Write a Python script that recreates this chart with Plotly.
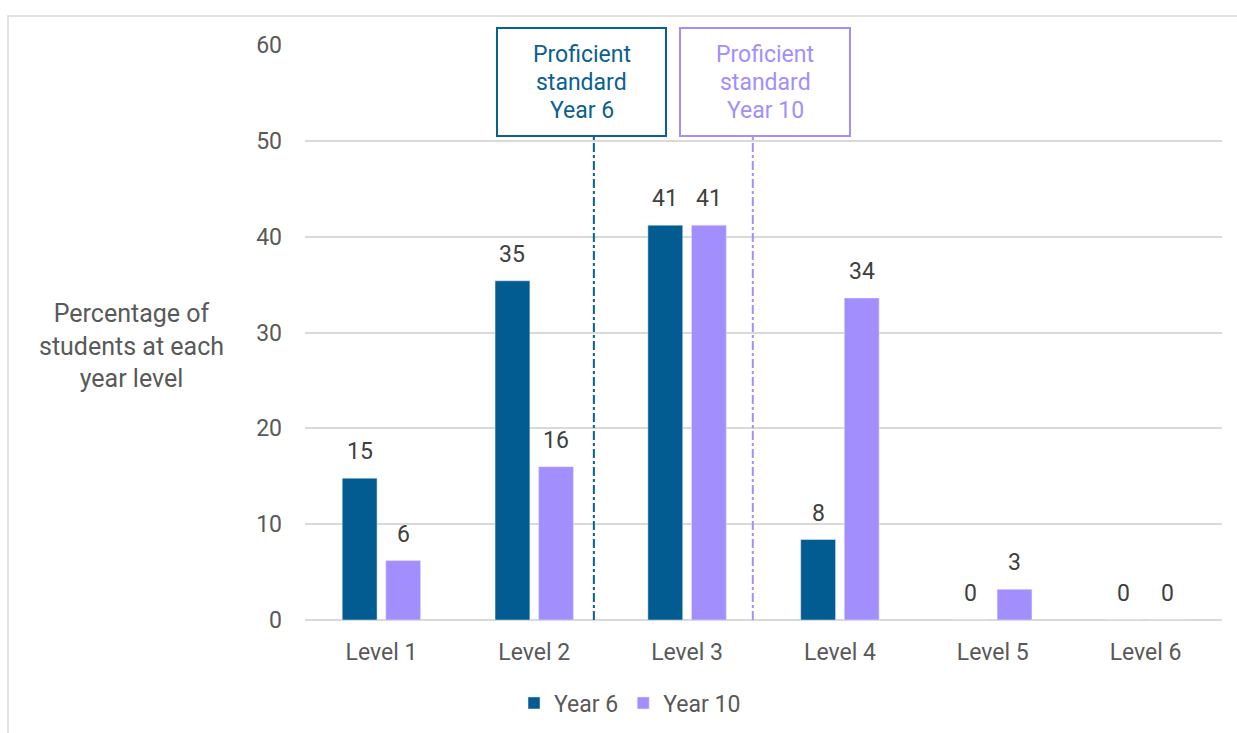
import plotly.graph_objects as go

categories = ["Level 1", "Level 2", "Level 3", "Level 4", "Level 5", "Level 6"]
year6 = [14.8, 35.4, 41.2, 8.4, 0, 0]
year10 = [6.2, 16.0, 41.2, 33.6, 3.2, 0]
yticks = [0, 10, 20, 30, 40, 50, 60]
box6_lines = ["Proficient", "standard", "Year 6"]
box10_lines = ["Proficient", "standard", "Year 10"]

C6 = "#035C91"
C10 = "#A28FFD"
B6 = "#0A6191"
TXT = "#595959"
LBL = "#404040"
FONT = "Roboto"
FS = 23

W, H = 1237, 733
L, R, T, B = 305, 15, 45, 113
PW, PH = W - L - R, H - T - B

def px2x(px):
    return (px - L) / PW

def py2y(py):
    return (H - B - py) / PH

BARGAP, GROUPGAP = 0.43, 0.2

fig = go.Figure()
fig.add_trace(go.Bar(x=categories, y=year6, name="Year 6", marker=dict(color=C6)))
fig.add_trace(go.Bar(x=categories, y=year10, name="Year 10", marker=dict(color=C10)))

# data labels (rounded values above each bar)
slot_px = PW / len(categories) * (1 - BARGAP) / 2
for vals, sh in [(year6, -slot_px / 2), (year10, slot_px / 2)]:
    for c, v in zip(categories, vals):
        fig.add_annotation(x=c, y=v, xref="x", yref="y", text=f"{v:.0f}",
                           showarrow=False, xanchor="center", yanchor="bottom",
                           xshift=sh, yshift=11,
                           font=dict(color=LBL, size=FS, family=FONT))

# proficient standard lines
for xv, col in [(1.39, B6), (2.43, C10)]:
    fig.add_shape(type="line", xref="x", yref="paper", x0=xv, x1=xv,
                  y0=0, y1=py2y(137), line=dict(color=col, width=2, dash="dashdot"))

# proficient standard boxes
for (x0, x1), lines, col in [((497, 666), box6_lines, B6), ((680, 850), box10_lines, C10)]:
    fig.add_shape(type="rect", xref="paper", yref="paper",
                  x0=px2x(x0), x1=px2x(x1), y0=py2y(136), y1=py2y(28),
                  line=dict(color=col, width=2), fillcolor="white")
    xc = px2x((x0 + x1) / 2)
    for i, t in enumerate(lines):
        fig.add_annotation(x=xc, y=py2y(54 + 28 * i), xref="paper", yref="paper",
                           text=t, showarrow=False, xanchor="center", yanchor="middle",
                           font=dict(color=col, size=FS, family=FONT))

# y-axis title
fig.add_annotation(x=px2x(131), y=py2y(346), xref="paper", yref="paper",
                   text="Percentage of<br>students at each<br>year level", showarrow=False,
                   xanchor="center", yanchor="middle",
                   font=dict(color=TXT, size=25, family=FONT), align="center")

# outer border
fig.add_shape(type="rect", xref="paper", yref="paper",
              x0=px2x(8), x1=px2x(W + 20), y0=py2y(H + 20), y1=py2y(16),
              line=dict(color="#d9d9d9", width=1.5), layer="below")

fig.update_layout(
    width=W, height=H,
    margin=dict(l=L, r=R, t=T, b=B, autoexpand=False),
    paper_bgcolor="white", plot_bgcolor="white",
    font=dict(family=FONT, color=TXT, size=FS),
    barmode="group", bargap=BARGAP, bargroupgap=GROUPGAP,
    showlegend=True,
    legend=dict(orientation="h", x=px2x(630), xanchor="center", y=py2y(703), yanchor="middle",
                font=dict(size=FS, color=TXT), itemwidth=30),
    xaxis=dict(showgrid=False, showline=False, ticks="", tickfont=dict(size=FS, color=TXT),
               ticklabelstandoff=16),
    yaxis=dict(range=[0, 60], tickvals=yticks, showgrid=True, gridcolor="#d9d9d9", gridwidth=1.5,
               zeroline=True, zerolinecolor="#d9d9d9", zerolinewidth=1.5,
               tickfont=dict(size=FS, color=TXT), ticklabelstandoff=22),
)

fig.write_html("out.html")
